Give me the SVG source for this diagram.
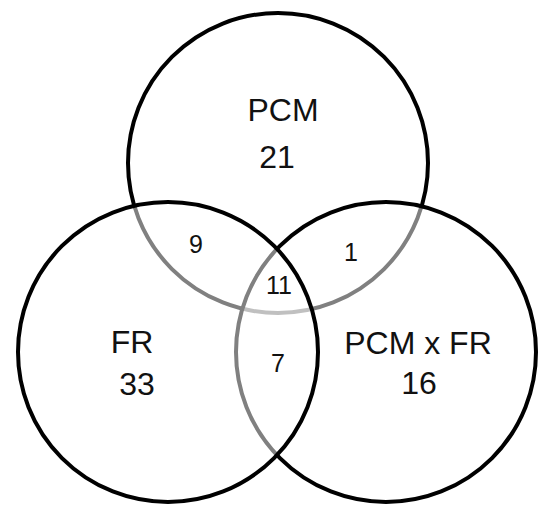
<svg xmlns="http://www.w3.org/2000/svg" width="550" height="512" viewBox="0 0 550 512">
<style>
.c{fill:#fff;fill-opacity:0.5;stroke:#000;stroke-width:4}
.big{font-family:"Liberation Sans",Arial,sans-serif;font-size:32px;fill:#111;text-anchor:middle}
.sm{font-family:"Liberation Sans",Arial,sans-serif;font-size:25px;fill:#111;text-anchor:middle}
</style>
<rect width="550" height="512" fill="#fff"/>
<g id="pcm"><circle class="c" cx="278" cy="163" r="150"/></g>
<g id="pcmxfr"><circle class="c" cx="386" cy="352" r="150"/></g>
<g id="fr"><circle class="c" cx="168" cy="352" r="150"/></g>
<g id="connectors"></g>
<g id="labels">
<text class="big" x="283" y="121">PCM</text>
<text class="big" x="277" y="168">21</text>
<text class="big" x="132" y="353">FR</text>
<text class="big" x="137" y="395">33</text>
<text class="big" x="418" y="354">PCM x FR</text>
<text class="big" x="419" y="394">16</text>
<text class="sm" x="196" y="253">9</text>
<text class="sm" x="351" y="261">1</text>
<text class="sm" x="279" y="294">11</text>
<text class="sm" x="278" y="372">7</text>
</g>
</svg>
